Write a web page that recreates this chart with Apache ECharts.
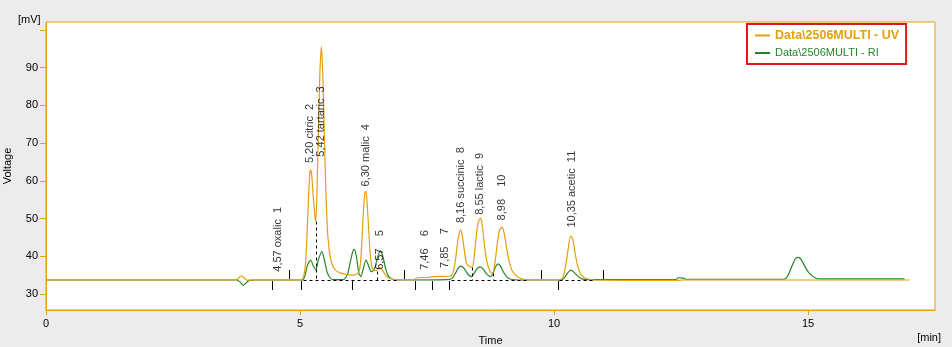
<!DOCTYPE html>
<html>
<head>
<meta charset="utf-8">
<script src="https://cdn.jsdelivr.net/npm/echarts@6/dist/echarts.min.js"></script>
<style>
  html, body { margin: 0; padding: 0; background: #ececec; }
  #chart { width: 952px; height: 347px; }
</style>
</head>
<body>
<div id="chart"></div>
<script>
// ---- Chromatogram data: [time (min), signal (mV)] ----
const uvTrace = [
  [0, 33.7], [3.70, 33.7], [3.78, 34.0], [3.84, 34.8], [3.90, 34.3], [3.96, 33.6], [4.05, 33.7],
  [5.00, 33.7], [5.06, 34.2], [5.10, 37.0], [5.13, 43.0], [5.16, 53.0], [5.19, 61.5], [5.21, 62.9],
  [5.23, 61.5], [5.26, 56.0], [5.29, 51.0], [5.31, 49.3], [5.33, 55.0], [5.36, 72.0], [5.39, 88.0],
  [5.42, 95.6], [5.45, 88.0], [5.48, 72.0], [5.51, 57.0], [5.55, 45.0], [5.60, 39.5], [5.66, 37.0],
  [5.75, 35.8], [5.90, 35.2], [6.05, 35.0], [6.14, 35.5], [6.18, 37.0], [6.21, 42.0], [6.24, 50.0],
  [6.27, 56.0], [6.29, 57.2], [6.31, 56.0], [6.34, 50.0], [6.37, 43.0], [6.40, 38.5], [6.44, 36.4],
  [6.50, 36.2], [6.54, 36.8], [6.57, 37.0], [6.61, 36.6], [6.66, 35.5], [6.72, 34.5], [6.80, 34.0],
  [6.88, 33.8], [7.25, 33.8], [7.30, 34.3], [7.55, 34.4], [7.60, 34.6], [7.95, 34.7], [7.98, 34.8],
  [8.03, 36.5], [8.07, 40.0], [8.11, 44.5], [8.16, 47.0], [8.20, 45.0], [8.24, 41.0], [8.28, 38.0],
  [8.34, 37.3], [8.39, 37.1], [8.42, 39.0], [8.46, 44.0], [8.50, 48.5], [8.55, 50.1], [8.59, 48.0],
  [8.63, 43.0], [8.68, 38.5], [8.74, 36.0], [8.79, 35.5], [8.84, 38.5], [8.88, 43.0], [8.93, 47.0],
  [8.98, 47.7], [9.02, 46.0], [9.07, 42.0], [9.12, 38.5], [9.18, 36.0], [9.26, 34.8], [9.35, 34.1],
  [9.45, 33.8], [10.12, 33.8], [10.18, 34.5], [10.23, 37.5], [10.28, 42.0], [10.33, 45.4],
  [10.37, 44.5], [10.42, 40.5], [10.47, 37.2], [10.53, 35.2], [10.60, 34.3], [10.70, 33.9],
  [10.80, 33.7], [12.10, 33.6], [12.48, 33.6], [12.50, 33.7], [17.00, 33.7]
];

const riTrace = [
  [0, 33.7], [3.75, 33.7], [3.82, 33.2], [3.88, 32.3], [3.94, 32.9], [4.00, 33.6], [4.10, 33.7],
  [5.05, 33.7], [5.10, 35.0], [5.15, 37.8], [5.21, 39.0], [5.26, 37.5], [5.31, 36.4], [5.36, 39.0],
  [5.43, 41.2], [5.48, 39.0], [5.53, 36.0], [5.58, 34.5], [5.64, 33.8], [5.85, 33.8], [5.93, 35.0],
  [5.99, 38.5], [6.04, 41.3], [6.07, 41.8], [6.11, 40.0], [6.16, 35.5], [6.20, 34.6], [6.25, 37.0],
  [6.30, 39.0], [6.35, 37.5], [6.40, 35.9], [6.46, 36.5], [6.53, 39.8], [6.58, 41.4], [6.63, 40.0],
  [6.68, 37.0], [6.74, 34.8], [6.82, 33.9], [6.95, 33.7], [7.90, 33.8], [8.00, 34.2], [8.06, 35.5],
  [8.11, 36.8], [8.17, 37.4], [8.23, 36.8], [8.30, 35.3], [8.38, 34.6], [8.44, 35.8], [8.50, 36.9],
  [8.55, 37.2], [8.61, 36.5], [8.68, 35.2], [8.75, 34.6], [8.80, 35.5], [8.85, 37.2], [8.90, 38.0],
  [8.95, 37.3], [9.01, 35.7], [9.08, 34.4], [9.15, 33.9], [9.30, 33.7], [10.15, 33.7], [10.21, 34.4],
  [10.27, 35.6], [10.33, 36.3], [10.39, 35.8], [10.46, 34.8], [10.55, 34.0], [10.65, 33.8],
  [12.40, 33.8], [12.45, 34.3], [12.55, 34.2], [12.60, 33.9], [14.50, 33.9], [14.57, 34.2],
  [14.63, 35.6], [14.69, 37.6], [14.75, 39.3], [14.80, 39.7], [14.85, 39.4], [14.90, 38.3],
  [14.96, 36.8], [15.02, 35.6], [15.10, 34.6], [15.17, 34.1], [15.25, 34.0], [16.90, 34.0]
];

// ---- Identified peaks ----
const peakTimes   = [4.57, 5.20, 5.42, 6.30, 6.57, 7.46, 7.85, 8.16, 8.55, 8.98, 10.35];
const peakNames   = ['oxalic', 'citric', 'tartaric', 'malic', '', '', '', 'succinic', 'lactic', '', 'acetic'];
const peakIds     = [1, 2, 3, 4, 5, 6, 7, 8, 9, 10, 11];
const peakLabelAt = [35.9, 64.7, 66.4, 58.5, 36.4, 36.4, 36.9, 48.8, 51.0, 49.5, 47.6];

// ---- Integration events ----
const baselineLevel = 33.7;
const eventsBelow = [4.44, 5.01, 6.02, 7.26, 7.60, 7.94, 10.07];
const eventsAbove = [4.79, 7.05, 9.74, 10.96];
const integrationBaselines = [[5.05, 6.95], [7.97, 9.45], [10.10, 10.80]];
const dropLineTimes = [5.31, 6.51, 8.39, 8.79];
const dropLineTops  = [49.3, 36.2, 37.1, 35.5];

// ---- Axes ----
const xTicks = [0, 5, 10, 15];
const yTicks = [30, 40, 50, 60, 70, 80, 90, 100];
const yTickLabels = [30, 40, 50, 60, 70, 80, 90];

const ORANGE = '#e5a00d';
const GREEN = '#25862a';
const FONT = '"Liberation Sans", Arial, sans-serif';

const uvName = 'Data\\2506MULTI - UV';
const riName = 'Data\\2506MULTI - RI';

const labelData = peakTimes.map((t, i) => ({
  value: [t, peakLabelAt[i]],
  text: peakNames[i]
    ? `${t.toFixed(2).replace('.', ',')} ${peakNames[i]}  ${peakIds[i]}`
    : `${t.toFixed(2).replace('.', ',')}    ${peakIds[i]}`
}));

const eventData = eventsBelow.map(t => [t, baselineLevel, -1])
  .concat(eventsAbove.map(t => [t, baselineLevel, 1]));

const segmentData = integrationBaselines.map(s => [s[0], baselineLevel, s[1], baselineLevel])
  .concat(dropLineTimes.map((t, i) => [t, dropLineTops[i], t, baselineLevel]));

const chart = echarts.init(document.getElementById('chart'), null, { renderer: 'canvas' });

chart.setOption({
  animation: false,
  backgroundColor: '#ececec',
  textStyle: { fontFamily: FONT },
  grid: {
    left: 46, right: 17, top: 22, bottom: 37,
    show: true, backgroundColor: '#ffffff', borderColor: ORANGE, borderWidth: 1,
    outerBoundsMode: 'none'
  },
  legend: {
    orient: 'vertical',
    left: 747, top: 24,
    padding: [5, 7, 5, 8],
    borderColor: '#e3161b', borderWidth: 2,
    itemGap: 5, itemWidth: 15, itemHeight: 2,
    icon: 'rect', align: 'left',
    textStyle: { fontFamily: FONT, fontSize: 11, lineHeight: 12 },
    data: [
      { name: uvName, textStyle: { color: ORANGE, fontWeight: 'bold', fontSize: 12.5, lineHeight: 12 } },
      { name: riName, textStyle: { color: GREEN } }
    ]
  },
  xAxis: {
    type: 'value', min: 0, max: 17.5,
    name: 'Time', nameLocation: 'middle', nameGap: 25,
    nameTextStyle: { color: '#000', fontSize: 11, fontFamily: FONT },
    axisLine: { show: true, lineStyle: { color: ORANGE, width: 1 } },
    axisTick: { show: true, length: 5, lineStyle: { color: ORANGE }, customValues: xTicks },
    axisLabel: { color: '#000', fontSize: 11, margin: 8, customValues: xTicks },
    splitLine: { show: false }
  },
  yAxis: {
    type: 'value', min: 25.75, max: 102.1,
    name: 'Voltage', nameLocation: 'middle', nameGap: 33, nameRotate: 90,
    nameTextStyle: { color: '#000', fontSize: 11, fontFamily: FONT },
    axisLine: { show: true, lineStyle: { color: ORANGE, width: 1 } },
    axisTick: { show: true, length: 6, lineStyle: { color: ORANGE }, customValues: yTicks },
    axisLabel: { color: '#000', fontSize: 11, margin: 8, customValues: yTickLabels },
    splitLine: { show: false }
  },
  graphic: [
    { type: 'text', left: 18, top: 14, style: { text: '[mV]', fill: '#000', font: '11px ' + FONT } },
    { type: 'text', right: 11, top: 332, style: { text: '[min]', fill: '#000', font: '11px ' + FONT } }
  ],
  series: [
    {
      name: riName, type: 'line', data: riTrace, showSymbol: false, smooth: 0.25,
      lineStyle: { color: GREEN, width: 1.2 }, itemStyle: { color: GREEN }, z: 2, silent: true
    },
    {
      name: uvName, type: 'line', data: uvTrace, showSymbol: false, smooth: 0.25,
      lineStyle: { color: ORANGE, width: 1.2 }, itemStyle: { color: ORANGE }, z: 3, silent: true
    },
    {
      // integration baselines and peak drop lines
      type: 'custom', data: segmentData, z: 4, silent: true,
      renderItem(params, api) {
        const a = api.coord([api.value(0), api.value(1)]);
        const b = api.coord([api.value(2), api.value(3)]);
        return {
          type: 'line',
          shape: { x1: Math.round(a[0]) + 0.5, y1: Math.round(a[1]) + 0.5, x2: Math.round(b[0]) + 0.5, y2: Math.round(b[1]) + 0.5 },
          style: { stroke: '#000', lineWidth: 1, lineDash: [3, 3] }
        };
      }
    },
    {
      // start / end integration event markers
      type: 'custom', data: eventData, z: 4, silent: true,
      renderItem(params, api) {
        const p = api.coord([api.value(0), api.value(1)]);
        const dir = api.value(2);
        const x = Math.round(p[0]) + 0.5;
        const y = Math.round(p[1]);
        return {
          type: 'line',
          shape: { x1: x, y1: y - dir * 1, x2: x, y2: y - dir * 10 },
          style: { stroke: '#000', lineWidth: 1 }
        };
      }
    },
    {
      // peak annotations
      type: 'scatter', data: labelData, symbolSize: 0, z: 5, silent: true,
      label: {
        show: true, position: 'inside', rotate: 90,
        align: 'left', verticalAlign: 'middle',
        color: '#000', fontSize: 11, fontFamily: FONT,
        formatter: p => p.data.text
      }
    }
  ]
});
</script>
</body>
</html>
